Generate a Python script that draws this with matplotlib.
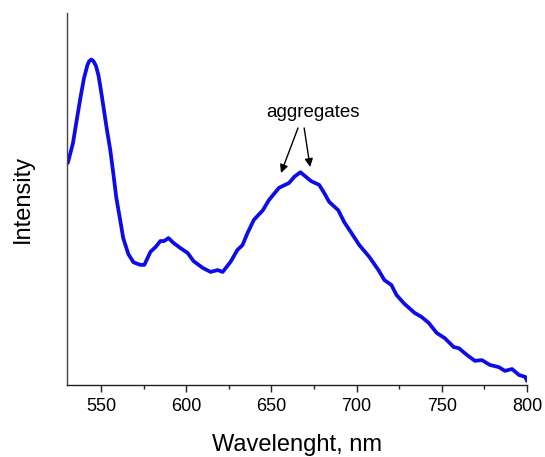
import numpy as np
import matplotlib.pyplot as plt
from matplotlib.ticker import MultipleLocator

plt.rcParams['font.family'] = ['Liberation Sans', 'DejaVu Sans']

# emission spectrum, wavelength (nm) vs normalised intensity
wavelength = [530.5, 533.5, 536.0, 538.0, 540.0, 542.0, 543.0, 544.2, 545.5, 547.0,
              548.5, 550.0, 551.5, 553.3, 555.4, 557.3, 558.9, 561.2, 563.0, 566.0,
              569.0, 573.0, 575.4, 579.0, 582.0, 584.8, 587.0, 589.6, 592.5, 596.6,
              600.8, 604.3, 609.6, 614.3, 618.4, 621.4, 626.0, 630.0, 633.0, 636.0,
              639.7, 645.0, 648.5, 654.4, 660.3, 663.5, 667.0, 673.3, 678.0, 681.0,
              683.9, 689.2, 692.7, 696.9, 701.6, 707.5, 712.8, 716.3, 720.4, 723.4,
              728.1, 734.0, 738.1, 742.3, 747.0, 751.7, 757.0, 760.0, 764.7, 769.4,
              773.5, 778.2, 783.5, 787.0, 791.2, 795.3, 798.9, 800.0]
intensity = [0.597, 0.650, 0.720, 0.775, 0.825, 0.860, 0.870, 0.875, 0.871, 0.858,
             0.832, 0.790, 0.745, 0.690, 0.632, 0.565, 0.505, 0.444, 0.395, 0.352,
             0.330, 0.323, 0.323, 0.358, 0.371, 0.387, 0.387, 0.395, 0.382, 0.368,
             0.355, 0.333, 0.315, 0.304, 0.309, 0.304, 0.331, 0.363, 0.376, 0.409,
             0.444, 0.470, 0.497, 0.530, 0.543, 0.560, 0.572, 0.548, 0.538, 0.516,
             0.492, 0.470, 0.438, 0.409, 0.376, 0.344, 0.309, 0.282, 0.269, 0.242,
             0.218, 0.194, 0.183, 0.167, 0.140, 0.126, 0.102, 0.099, 0.081, 0.065,
             0.067, 0.054, 0.048, 0.038, 0.043, 0.027, 0.022, 0.011]

fig = plt.figure(figsize=(5.45, 4.57), dpi=100)
ax = fig.add_axes([0.1229, 0.1575, 0.8441, 0.8141])

ax.plot(wavelength, intensity, color='#0c0ceb', linewidth=2.7,
        solid_joinstyle='round', solid_capstyle='round')

ax.set_xlim(530, 800)
ax.set_ylim(0, 1)

ax.spines['top'].set_visible(False)
ax.spines['right'].set_visible(False)
ax.spines['left'].set_color('#444444')
ax.spines['bottom'].set_color('#222222')
ax.spines['left'].set_linewidth(1.0)
ax.spines['bottom'].set_linewidth(1.0)

ax.xaxis.set_minor_locator(MultipleLocator(25))
ax.set_xticks([550, 600, 650, 700, 750, 800])
ax.tick_params(axis='x', which='major', direction='out', length=5, width=1,
               labelsize=13, pad=4, color='#222222')
ax.tick_params(axis='x', which='minor', direction='out', length=3, width=1,
               color='#222222')
ax.set_yticks([])

ax.set_xlabel('Wavelenght, nm', fontsize=17, labelpad=14)
ax.set_ylabel('Intensity', fontsize=17, labelpad=24)

# arrows pointing at the two aggregate bands
ax.annotate('', xy=(655.6, 0.570), xytext=(665.6, 0.691),
            arrowprops=dict(arrowstyle='-|>', color='black', lw=1.0,
                            mutation_scale=12, shrinkA=0, shrinkB=0))
ax.annotate('', xy=(672.7, 0.586), xytext=(669.2, 0.691),
            arrowprops=dict(arrowstyle='-|>', color='black', lw=1.0,
                            mutation_scale=12, shrinkA=0, shrinkB=0))
ax.text(674.5, 0.72, 'aggregates', ha='center', va='baseline', fontsize=13.5)

fig.savefig('out.png', dpi=100)
